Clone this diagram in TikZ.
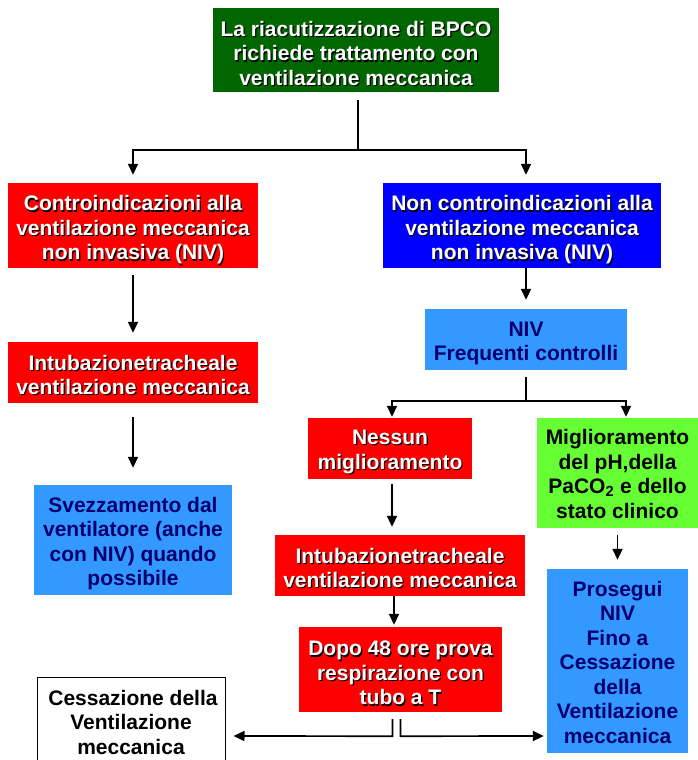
\documentclass[tikz,border=0pt]{standalone}
\usepackage{fontspec}
\setmainfont{Liberation Sans}
\usetikzlibrary{arrows.meta,calc}
\definecolor{dkgreen}{RGB}{0,102,0}
\definecolor{myred}{RGB}{255,0,0}
\definecolor{myblue}{RGB}{0,0,255}
\definecolor{ltblue}{RGB}{51,153,255}
\definecolor{ltgreen}{RGB}{102,255,51}
\definecolor{navytxt}{RGB}{0,0,110}
\newcommand\shl[1]{\leavevmode\rlap{\kern1.2pt\raisebox{-1.2pt}{\textcolor{black}{#1}}}#1}
\newcommand\bx[2][4pt]{\raisebox{-#1}[\height][\depth]{\begin{tabular}{@{}c@{}}#2\end{tabular}}}
\tikzset{
  box/.style={rectangle, inner sep=0pt,
    font=\fontsize{21}{24.5}\selectfont\bfseries},
  darkbox/.style={box, text=white},
  lightbox/.style={box, text=navytxt, fill=ltblue},
  ln/.style={line width=1.7pt, black},
  arr/.style={ln, -{Triangle[length=11pt,width=10pt]}}
}
\begin{document}
\begin{tikzpicture}[x=1pt,y=-1pt]
\useasboundingbox (0,0) rectangle (698,760);
% boxes
\node[darkbox, fill=dkgreen, minimum width=286pt, minimum height=84pt] (top) at (356,50)
  {\bx[6pt]{\shl{La riacutizzazione di BPCO}\\\shl{richiede trattamento con}\\\shl{ventilazione meccanica}}};
\node[darkbox, fill=myred, minimum width=250pt, minimum height=85pt] (ci) at (133,225.5)
  {\bx[5pt]{\shl{Controindicazioni alla}\\\shl{ventilazione meccanica}\\\shl{non invasiva (NIV)}}};
\node[darkbox, fill=myblue, minimum width=278pt, minimum height=85pt] (nci) at (522,225.5)
  {\bx[5pt]{\shl{Non controindicazioni alla}\\\shl{ventilazione meccanica}\\\shl{non invasiva (NIV)}}};
\node[darkbox, fill=myred, minimum width=250pt, minimum height=61pt] (intub1) at (133,372.5)
  {\bx[5pt]{\shl{Intubazionetracheale}\\\shl{ventilazione meccanica}}};
\node[lightbox, minimum width=198pt, minimum height=110pt] (svez) at (133,540)
  {\bx{Svezzamento dal\\ventilatore (anche\\con NIV) quando\\possibile}};
\node[lightbox, minimum width=202pt, minimum height=61pt] (niv) at (526,339.5)
  {\bx{NIV\\Frequenti controlli}};
\node[darkbox, fill=myred, minimum width=164pt, minimum height=61pt] (nessun) at (390,448.5)
  {\bx[3.5pt]{\shl{Nessun}\\\shl{miglioramento}}};
\node[box, fill=ltgreen, text=black, minimum width=161pt, minimum height=110pt] (migl) at (617.5,473)
  {\bx[3.5pt]{Miglioramento\\del pH,della\\PaCO\textsubscript{2} e dello\\stato clinico}};
\node[darkbox, fill=myred, minimum width=250pt, minimum height=61pt] (intub2) at (400,565.5)
  {\bx[5pt]{\shl{Intubazionetracheale}\\\shl{ventilazione meccanica}}};
\node[lightbox, minimum width=141pt, minimum height=184pt] (prosegui) at (617.5,661)
  {\bx[4pt]{Prosegui\\NIV\\Fino a\\Cessazione\\della\\Ventilazione\\meccanica}};
\node[darkbox, fill=myred, minimum width=203pt, minimum height=85pt] (dopo) at (400.5,669.5)
  {\bx[6pt]{\shl{Dopo 48 ore prova}\\\shl{respirazione con}\\\shl{tubo a T}}};
\node[box, fill=white, draw=black, line width=1pt, text=black, minimum width=188pt, minimum height=90pt] (cess) at (131,722)
  {\bx[3pt]{\hspace*{4pt}Cessazione della\\Ventilazione\\meccanica}};
% connectors
\coordinate (j1) at (358,150);
\draw[ln] ($(top.south)+(2,8)$) -- (j1);
\draw[arr] (j1) -| ($(ci.north)+(0,-8)$);
\draw[arr] (j1) -| ($(nci.north)+(4,-8)$);
\draw[arr] ($(ci.south)+(0,7)$) -- ($(intub1.north)+(0,-9)$);
\draw[arr] ($(intub1.south)+(0,14)$) -- ($(svez.north)+(0,-17)$);
\draw[arr] ($(nci.south)+(4,0)$) -- ($(niv.north)+(0,-9)$);
\coordinate (j2) at (526,401);
\draw[ln] ($(niv.south)+(0,7)$) -- (j2);
\draw[arr] (j2) -| ($(nessun.north)+(2,-1)$);
\draw[arr] (j2) -| ($(migl.north)+(8.5,-1)$);
\draw[arr] ($(nessun.south)+(2,5)$) -- ($(nessun.south |- intub2.north)+(2,-8)$);
\draw[arr] ($(migl.south)+(0,7)$) -- ($(prosegui.north)+(0,-9)$);
\draw[arr] ($(intub2.south)+(-6,0)$) -- ($(intub2.south |- dopo.north)+(-6,-2)$);
\draw[arr] ($(dopo.south)+(-8,7)$) -- ($(dopo.south)+(-8,24)$) -- ($(cess.east)+(8,14)$);
\draw[arr] ($(dopo.south)+(0,7)$) -- ($(dopo.south)+(0,24)$) -- ($(prosegui.west)+(-3,75)$);
\end{tikzpicture}
\end{document}
